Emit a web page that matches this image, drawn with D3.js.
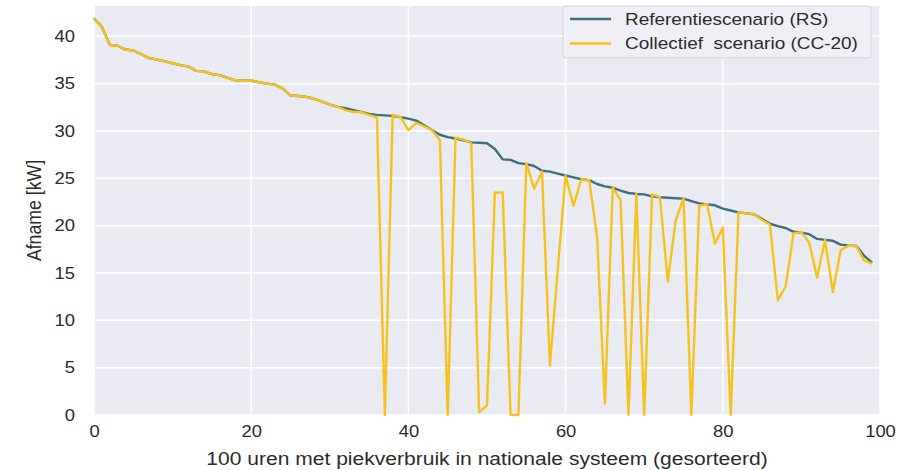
<!DOCTYPE html>
<html>
<head>
<meta charset="utf-8">
<script src="https://cdn.jsdelivr.net/npm/d3@7"></script>
<style>
	body { margin: 0; background: #fff; }
	svg text { font-family: "Liberation Sans", Arial, sans-serif; fill: #2b2b2b; }
</style>
</head>
<body>
<div id="graph"></div>
<script>
// 100 uren, gesorteerd
const hours = d3.range(0, 100);

const referentie = [
	41.9, 41.0, 39.1, 39.0, 38.6, 38.5, 38.1, 37.7, 37.55, 37.35,
	37.15, 36.95, 36.8, 36.35, 36.3, 36.0, 35.9, 35.6, 35.35, 35.3,
	35.3, 35.15, 35.0, 34.9, 34.5, 33.75, 33.7, 33.6, 33.4, 33.1,
	32.8, 32.55, 32.4, 32.2, 32.0, 31.8, 31.7, 31.65, 31.6, 31.45,
	31.3, 31.1, 30.6, 30.1, 29.6, 29.35, 29.2, 29.0, 28.8, 28.75,
	28.7, 28.1, 27.0, 26.95, 26.6, 26.5, 26.3, 25.8, 25.7, 25.5,
	25.3, 25.1, 24.9, 24.8, 24.4, 24.15, 24.0, 23.7, 23.45, 23.35,
	23.3, 23.1, 23.0, 22.95, 22.9, 22.85, 22.6, 22.35, 22.25, 22.15,
	21.8, 21.6, 21.4, 21.3, 21.2, 20.7, 20.2, 19.95, 19.75, 19.35,
	19.25, 19.1, 18.6, 18.5, 18.4, 18.0, 17.9, 17.85, 16.8, 16.1
];

const collectief = [
	41.9, 41.0, 39.1, 39.0, 38.6, 38.5, 38.1, 37.7, 37.55, 37.35,
	37.15, 36.95, 36.8, 36.35, 36.3, 36.0, 35.9, 35.6, 35.35, 35.3,
	35.3, 35.15, 35.0, 34.9, 34.5, 33.75, 33.7, 33.6, 33.4, 33.1,
	32.8, 32.55, 32.2, 32.0, 32.0, 31.7, 31.4, 0, 31.7, 31.45,
	30.1, 30.85, 30.5, 30.1, 29.05, 0, 29.3, 29.1, 28.7, 0.3,
	1.0, 23.5, 23.5, 0, 0, 26.6, 23.9, 25.7, 5.2, 15.3,
	25.3, 22.1, 24.9, 24.8, 18.9, 1.2, 24.0, 22.7, 0, 23.4,
	0, 23.3, 23.0, 14.1, 20.5, 22.9, 0, 22.1, 22.3, 18.1,
	19.8, 0, 21.4, 21.3, 21.2, 20.6, 20.1, 12.1, 13.6, 19.2,
	19.3, 18.2, 14.5, 18.5, 13.0, 17.4, 17.9, 17.85, 16.3, 16.0
];

const xTicks = [0, 20, 40, 60, 80, 100];
const yTicks = [0, 5, 10, 15, 20, 25, 30, 35, 40];
const seriesNames = ['Referentiescenario (RS)', 'Collectief  scenario (CC-20)'];
const seriesColors = ['#3f6f7b', '#f6c31c'];

// the original picture is a bit stretched sideways, so is its text
const stretch = 1.15;

function drawGraph() {
	const margin = { top: 6, right: 41, bottom: 55, left: 94 };
	const width = 921 - margin.left - margin.right;
	const height = 470 - margin.top - margin.bottom;

	const xScale = d3.scaleLinear().domain([0, 100]).range([0, width]);
	const yScale = d3.scaleLinear().domain([0, 43.2]).range([height, 0]);

	const svg = d3
		.select('#graph')
		.append('svg')
		.attr('width', 921)
		.attr('height', 470)
		.append('g')
		.attr('transform', `translate(${margin.left}, ${margin.top})`);

	svg.append('rect').attr('width', width).attr('height', height).attr('fill', '#eaeaf2');

	// grid
	svg.append('g')
		.selectAll('line')
		.data(xTicks)
		.enter()
		.append('line')
		.attr('x1', (d) => xScale(d))
		.attr('x2', (d) => xScale(d))
		.attr('y1', 0)
		.attr('y2', height)
		.attr('stroke', '#fff')
		.attr('stroke-width', 1.5);

	svg.append('g')
		.selectAll('line')
		.data(yTicks)
		.enter()
		.append('line')
		.attr('x1', 0)
		.attr('x2', width)
		.attr('y1', (d) => yScale(d))
		.attr('y2', (d) => yScale(d))
		.attr('stroke', '#fff')
		.attr('stroke-width', 1.5);

	const xAxis = d3.axisBottom(xScale).tickValues(xTicks).tickSize(0).tickPadding(11);
	const yAxis = d3.axisLeft(yScale).tickValues(yTicks).tickSize(0).tickPadding(19);

	svg.append('g')
		.attr('transform', `translate(0, ${height})`)
		.call(xAxis)
		.call((g) => g.select('.domain').remove())
		.selectAll('text')
		.style('font-size', '16px')
		.attr('fill', '#2b2b2b')
		.attr('transform', `scale(${stretch}, 1)`);

	svg.append('g')
		.call(yAxis)
		.call((g) => g.select('.domain').remove())
		.selectAll('text')
		.style('font-size', '16px')
		.attr('fill', '#2b2b2b')
		.attr('x', -19 / stretch)
		.attr('transform', `scale(${stretch}, 1)`);

	svg.append('text')
		.attr('transform', `translate(${width / 2}, ${height + 50}) scale(${stretch}, 1)`)
		.style('text-anchor', 'middle')
		.style('font-size', '18.3px')
		.text('100 uren met piekverbruik in nationale systeem (gesorteerd)');

	svg.append('text')
		.attr('transform', `translate(-53, ${height / 2}) rotate(-90) scale(1, ${stretch})`)
		.style('text-anchor', 'middle')
		.style('font-size', '17.7px')
		.text('Afname [kW]');

	const line = d3
		.line()
		.x((d) => xScale(d.x))
		.y((d) => yScale(d.y));

	[referentie, collectief].forEach((values, k) => {
		svg.append('path')
			.datum(hours.map((h, i) => ({ x: h, y: values[i] })))
			.attr('fill', 'none')
			.attr('stroke', seriesColors[k])
			.attr('stroke-width', 2.4)
			.attr('stroke-linejoin', 'round')
			.attr('d', line);
	});

	// legend
	const legend = svg.append('g').attr('transform', `translate(${width - 317}, 0)`);

	legend.append('rect')
		.attr('width', 308)
		.attr('height', 52)
		.attr('rx', 3)
		.attr('fill', '#efeff5')
		.attr('stroke', '#d4d4dc')
		.attr('stroke-width', 1);

	seriesNames.forEach((name, k) => {
		const row = legend.append('g').attr('transform', `translate(0, ${13 + k * 24.5})`);
		row.append('line')
			.attr('x1', 7)
			.attr('x2', 48)
			.attr('stroke', seriesColors[k])
			.attr('stroke-width', 2.4);
		row.append('text')
			.attr('transform', `translate(62, 0) scale(${stretch}, 1)`)
			.attr('dy', '0.35em')
			.style('font-size', '16.5px')
			.style('white-space', 'pre')
			.text(name);
	});
}

drawGraph();
</script>
</body>
</html>
